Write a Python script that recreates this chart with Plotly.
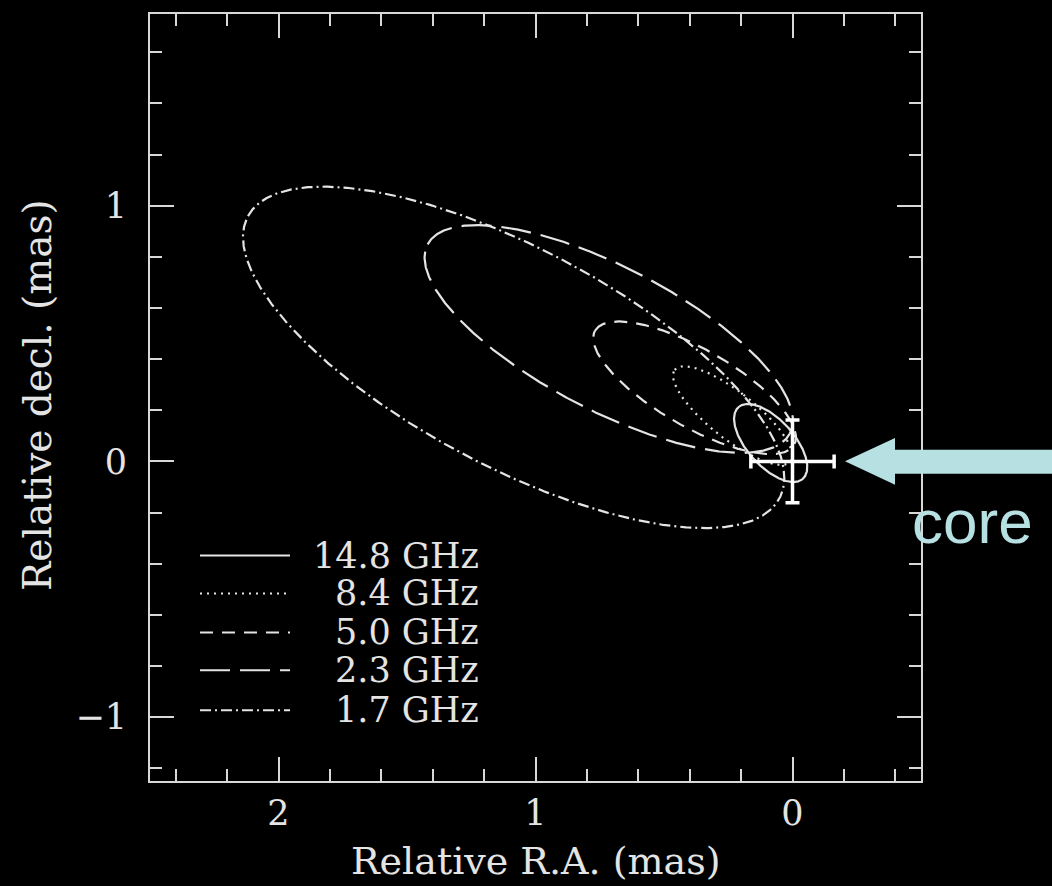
import numpy as np
import plotly.graph_objects as go

# ---- data ----
freqs = ["14.8 GHz", "8.4 GHz", "5.0 GHz", "2.3 GHz", "1.7 GHz"]
center_ra = [0.085, 0.233, 0.381, 0.715, 1.085]      # mas
center_dec = [0.072, 0.179, 0.288, 0.479, 0.407]     # mas
semi_major = [0.188, 0.288, 0.447, 0.796, 1.172]     # mas
semi_minor = [0.091, 0.091, 0.152, 0.280, 0.426]     # mas
angle_deg = [48.2, 38.5, 30.0, 27.7, 28.1]           # major-axis angle (data frame)

core_ra = [0.0]
core_dec = [0.0]
core_err_ra = [0.162]
core_err_dec = [0.162]

x_ticks = [2, 1, 0]
y_ticks = [-1, 0, 1]

# ---- styles ----
FG = "#e4e4e4"
FONT = "DejaVu Serif"
dashes = ["solid", "2px,5px", "13px,9px", "30px,10px", "11px,4px,2px,4px"]
CYAN = "#b7e0e3"

fig = go.Figure()

t = np.linspace(0, 2 * np.pi, 721)
for name, cx, cy, a, b, ang, d in zip(freqs, center_ra, center_dec, semi_major,
                                       semi_minor, angle_deg, dashes):
    r = np.radians(ang)
    ex = cx + a * np.cos(t) * np.cos(r) - b * np.sin(t) * np.sin(r)
    ey = cy + a * np.cos(t) * np.sin(r) + b * np.sin(t) * np.cos(r)
    fig.add_trace(go.Scatter(x=ex, y=ey, mode="lines", name=name,
                             line=dict(color=FG, width=2.2, dash=d),
                             hoverinfo="skip"))

fig.add_trace(go.Scatter(
    x=core_ra, y=core_dec, mode="markers",
    marker=dict(size=1, color="rgba(0,0,0,0)"),
    error_x=dict(type="data", array=core_err_ra, color="white", thickness=3.5, width=7),
    error_y=dict(type="data", array=core_err_dec, color="white", thickness=3.5, width=7),
    hoverinfo="skip"))

# ---- geometry helpers (pixel -> paper) ----
L, R, T, B = 150, 921, 12, 781
W, H = R - L, B - T
def px(xp):
    return (xp - L) / W
def py(yp):
    return (B - yp) / H

# legend (drawn like the original: line sample + right-aligned label)
rows = [555, 593, 632, 670, 710]
shapes = []
annotations = []
for name, d, yr in zip(freqs, dashes, rows):
    shapes.append(dict(type="line", xref="paper", yref="paper",
                       x0=px(200), x1=px(290), y0=py(yr), y1=py(yr),
                       line=dict(color=FG, width=2, dash=d)))
    annotations.append(dict(text=name, xref="paper", yref="paper",
                            x=px(481), y=py(yr), xanchor="right", yanchor="middle",
                            showarrow=False, font=dict(family=FONT, size=35, color=FG)))

# axis titles
annotations.append(dict(text="Relative R.A. (mas)", xref="paper", yref="paper",
                        x=0.5, y=py(885), xanchor="center", yanchor="bottom",
                        showarrow=False, font=dict(family=FONT, size=38, color=FG)))
annotations.append(dict(text="Relative decl. (mas)", xref="paper", yref="paper",
                        x=px(37), y=py(394), xanchor="center", yanchor="middle",
                        textangle=-90, showarrow=False,
                        font=dict(family=FONT, size=39, color=FG)))

# "core" arrow and label
pts = [(845, 460.5), (895, 437), (895, 449), (1052, 449), (1052, 473), (895, 473), (895, 484)]
path = "M " + " L ".join(f"{px(a):.5f},{py(b):.5f}" for a, b in pts) + " Z"
shapes.append(dict(type="path", xref="paper", yref="paper", path=path,
                   fillcolor=CYAN, line=dict(width=0), layer="above"))
annotations.append(dict(text="core", xref="paper", yref="paper",
                        x=px(972), y=py(521), xanchor="center", yanchor="middle",
                        showarrow=False,
                        font=dict(family="Liberation Sans", size=62, color=CYAN)))

axis_common = dict(
    showgrid=False, zeroline=False,
    showline=True, linecolor="#d8d8d8", linewidth=2, mirror="ticks",
    ticks="inside", ticklen=24, tickwidth=2, tickcolor="#d8d8d8",
    tickfont=dict(family=FONT, size=35, color=FG),
    minor=dict(ticks="inside", ticklen=12, tickwidth=2, tickcolor="#d8d8d8",
               dtick=0.2, tick0=0),
)

fig.update_layout(
    width=1052, height=886,
    margin=dict(l=L, r=1052 - R, t=T, b=886 - B),
    paper_bgcolor="black", plot_bgcolor="black",
    showlegend=False,
    shapes=shapes, annotations=annotations,
    xaxis=dict(range=[2.5, -0.5], tickmode="array", tickvals=x_ticks,
               ticktext=[str(v) for v in x_ticks], ticklabelstandoff=0, **axis_common),
    yaxis=dict(range=[-1.25, 1.75], tickmode="array", tickvals=y_ticks,
               ticktext=["\u22121", "0", "1"], ticklabelstandoff=14, **axis_common),
)

fig.write_html("out.html")
